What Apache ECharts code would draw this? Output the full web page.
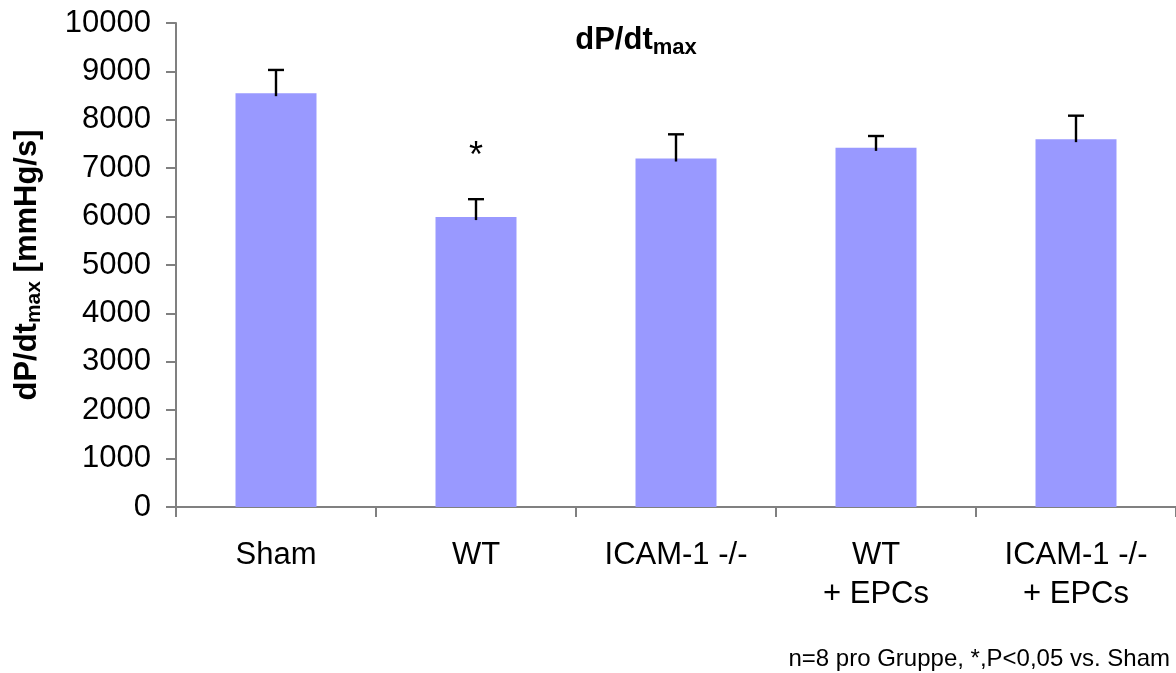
<!DOCTYPE html>
<html>
<head>
<meta charset="utf-8">
<script src="https://cdn.jsdelivr.net/npm/echarts@6/dist/echarts.min.js"></script>
<style>
  html, body { margin: 0; padding: 0; background: #fff; }
  #chart { width: 1176px; height: 673px; }
</style>
</head>
<body>
<div id="chart"></div>
<script>
// Groups and measured dP/dt max (mean and mean + SEM)
const groups = ['Sham', 'WT', 'ICAM-1 -/-', 'WT\n+ EPCs', 'ICAM-1 -/-\n+ EPCs'];
const means = [8550, 5990, 7200, 7420, 7600];
const upperErr = [9030, 6360, 7700, 7665, 8085];
const significance = ['', '*', '', '', ''];
const yTicks = [0, 10000, 1000];

const FONT = '"Liberation Sans", Arial, sans-serif';
const chart = echarts.init(document.getElementById('chart'));

chart.setOption({
  animation: false,
  backgroundColor: '#ffffff',
  title: [{
    text: '{m|dP/dt}{s|max}',
    left: 631,
    textAlign: 'center',
    top: 17,
    textStyle: {
      rich: {
        m: { fontFamily: FONT, fontWeight: 'bold', fontSize: 31, color: '#000', lineHeight: 36, verticalAlign: 'middle' },
        s: { fontFamily: FONT, fontWeight: 'bold', fontSize: 22, color: '#000', lineHeight: 36, verticalAlign: 'middle', padding: [16, 0, 0, 0] }
      }
    }
  }, {
    text: 'n=8 pro Gruppe, *,P<0,05 vs. Sham',
    right: 1,
    top: 642,
    textStyle: { fontFamily: FONT, fontWeight: 'normal', fontSize: 24, color: '#000' }
  }],
  grid: { left: 176, right: 0, top: 23, bottom: 166, containLabel: false },
  xAxis: {
    type: 'category',
    data: groups,
    boundaryGap: true,
    axisLine: { lineStyle: { color: '#808080', width: 2 } },
    axisTick: { show: true, alignWithLabel: false, length: 10, lineStyle: { color: '#808080', width: 2 } },
    axisLabel: { fontFamily: FONT, fontSize: 31, color: '#000', margin: 29, lineHeight: 39, interval: 0, align: 'center' }
  },
  yAxis: {
    type: 'value',
    min: yTicks[0],
    max: yTicks[1],
    interval: yTicks[2],
    name: '{m|dP/dt}{s|max}{m| [mmHg/s]}',
    nameLocation: 'middle',
    nameRotate: 90,
    nameGap: 131,
    nameTextStyle: {
      rich: {
        m: { fontFamily: FONT, fontWeight: 'bold', fontSize: 31, color: '#000', lineHeight: 36, verticalAlign: 'middle' },
        s: { fontFamily: FONT, fontWeight: 'bold', fontSize: 21, color: '#000', lineHeight: 36, verticalAlign: 'middle', padding: [15, 0, 0, 0] }
      }
    },
    splitLine: { show: false },
    axisLine: { show: true, lineStyle: { color: '#808080', width: 2 } },
    axisTick: { show: true, length: 10, lineStyle: { color: '#808080', width: 2 } },
    axisLabel: { fontFamily: FONT, fontSize: 31, color: '#000', margin: 25, formatter: (v) => String(v) }
  },
  series: [{
    type: 'bar',
    data: means,
    barWidth: 81,
    itemStyle: { color: '#9999FF' },
    z: 2
  }, {
    // upper error bars with caps, plus significance marks
    type: 'custom',
    z: 3,
    data: means.map((m, i) => [i, m, upperErr[i]]),
    encode: { x: 0, y: [1, 2] },
    renderItem: function (params, api) {
      const i = api.value(0);
      const base = api.coord([i, api.value(1)]);
      const top = api.coord([i, api.value(2)]);
      const half = 8;
      const children = [{
        type: 'line',
        shape: { x1: base[0], y1: base[1] + 3, x2: top[0], y2: top[1] },
        style: { stroke: '#000', lineWidth: 2.4 }
      }, {
        type: 'line',
        shape: { x1: top[0] - half, y1: top[1], x2: top[0] + half, y2: top[1] },
        style: { stroke: '#000', lineWidth: 2.4 }
      }];
      const mark = significance[i];
      if (mark) {
        children.push({
          type: 'text',
          style: {
            text: mark, x: top[0], y: top[1] - 42,
            align: 'center', verticalAlign: 'middle',
            font: '36px ' + FONT, fill: '#000'
          }
        });
      }
      return { type: 'group', children: children };
    }
  }]
});
</script>
</body>
</html>
